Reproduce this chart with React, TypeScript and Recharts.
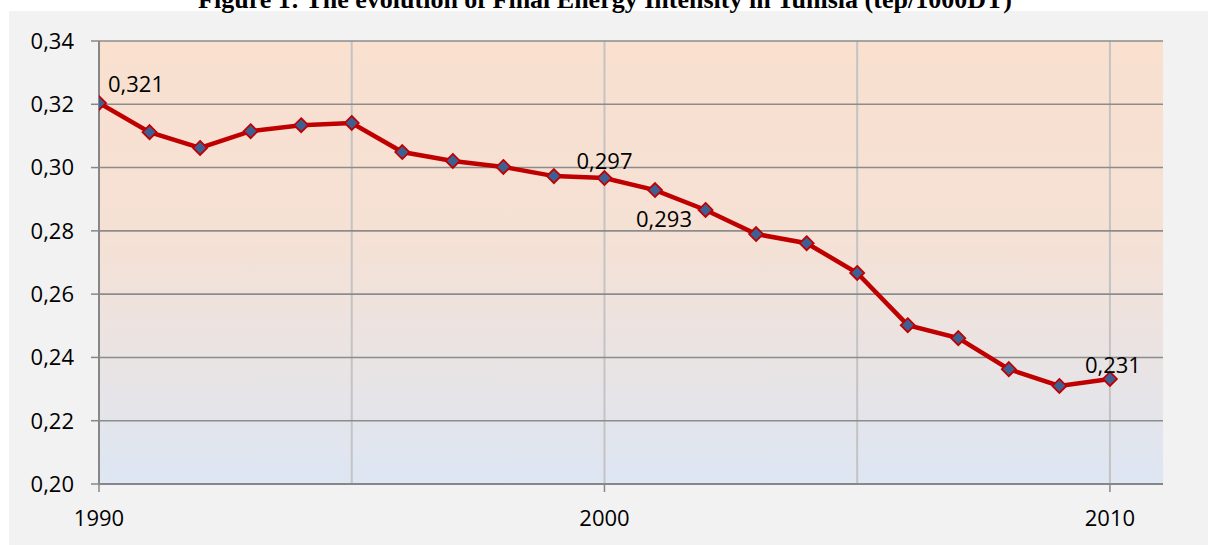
import React from "react";
import {
  LineChart,
  Line,
  XAxis,
  YAxis,
  CartesianGrid,
  LabelList
} from "recharts";

// data
const years = [
  1990, 1991, 1992, 1993, 1994, 1995, 1996, 1997, 1998, 1999, 2000,
  2001, 2002, 2003, 2004, 2005, 2006, 2007, 2008, 2009, 2010
];
const intensity = [
  0.3204, 0.3112, 0.3062, 0.3115, 0.3134, 0.3141, 0.3049, 0.3021, 0.3002, 0.2973, 0.2967,
  0.2929, 0.2866, 0.279, 0.2761, 0.2667, 0.2502, 0.2461, 0.2363, 0.231, 0.2332
];
const pointLabels: Record<number, string> = {
  1990: "0,321",
  2000: "0,297",
  2001: "0,293",
  2010: "0,231"
};
const yTicks = [0.2, 0.22, 0.24, 0.26, 0.28, 0.3, 0.32, 0.34];
const xTicks = [1990, 2000, 2010];
const gridYears = [1995, 2000, 2005, 2010];

const TITLE = "Figure 1: The evolution of Final Energy Intensity in Tunisia (tep/1000DT)";

const chartData = years.map((year, i) => ({
  year,
  value: intensity[i],
  label: pointLabels[year] ?? ""
}));

const FONT = "'Open Sans', sans-serif";
const AXIS_GRAY = "#878787";

// where each data label sits relative to its point
const labelOffset: Record<number, { dx: number; dy: number; anchor: "start" | "middle" }> = {
  1990: { dx: 9, dy: -20, anchor: "start" },
  2000: { dx: 0, dy: -18, anchor: "middle" },
  2001: { dx: 9, dy: 28, anchor: "middle" },
  2010: { dx: 3, dy: -15, anchor: "middle" }
};

const formatY = (v: number) => v.toFixed(2).replace(".", ",");

const Diamond = (props: any) => {
  const { cx, cy, index } = props;
  if (cx == null || cy == null) return <g key={`d-${index}`} />;
  const r = 7;
  return (
    <polygon
      key={`d-${index}`}
      points={`${cx},${cy - r} ${cx + r},${cy} ${cx},${cy + r} ${cx - r},${cy}`}
      fill="#3d6094"
      stroke="#c00000"
      strokeWidth={1.8}
    />
  );
};

const renderLabel = (props: any) => {
  const { x, y, value, index } = props;
  if (!value) return null;
  const off = labelOffset[years[index]] ?? { dx: 0, dy: -15, anchor: "middle" };
  return (
    <text
      x={x + off.dx}
      y={y + off.dy}
      textAnchor={off.anchor}
      dominantBaseline="central"
      fontFamily={FONT}
      fontSize={22}
      fill="#000"
    >
      {value}
    </text>
  );
};

export default function App() {
  return (
    <div style={{ position: "absolute", left: 0, top: 0, width: 1208, height: 545, overflow: "hidden", background: "#fff" }}>
      <div style={{ position: "absolute", left: 9, top: 11, width: 1199, height: 534, background: "#f2f2f2" }} />
      <svg width={1208} height={22} style={{ position: "absolute", left: 0, top: 0 }}>
        <text
          x={605}
          y={8}
          textAnchor="middle"
          fontFamily="'Liberation Serif', 'Times New Roman', serif"
          fontWeight="bold"
          fontSize={26}
          fill="#000"
        >
          {TITLE}
        </text>
      </svg>
      <div style={{ position: "absolute", left: 0, top: 0 }}>
        <LineChart
          width={1208}
          height={545}
          data={chartData}
          margin={{ top: 41, right: 45, bottom: 0, left: 9 }}
        >
          <defs>
            <linearGradient id="plotBg" x1="0" y1="0" x2="0" y2="1">
              <stop offset="0%" stopColor="#f9e0cf" />
              <stop offset="45%" stopColor="#f5e1d5" />
              <stop offset="100%" stopColor="#dde6f3" />
            </linearGradient>
          </defs>
          <CartesianGrid
            horizontal={false}
            verticalValues={gridYears}
            fill="url(#plotBg)"
            fillOpacity={1}
            stroke="#c3c3c3"
            strokeWidth={2}
          />
          <CartesianGrid
            vertical={false}
            horizontalValues={yTicks}
            stroke="#8c8c8c"
            strokeWidth={1.6}
          />
          <XAxis
            dataKey="year"
            type="number"
            domain={[1990, 2011.05]}
            ticks={xTicks}
            allowDataOverflow
            height={61}
            tickSize={8}
            tickMargin={18}
            axisLine={{ stroke: AXIS_GRAY, strokeWidth: 2 }}
            tickLine={{ stroke: AXIS_GRAY, strokeWidth: 1.5 }}
            tick={{ fill: "#000", fontFamily: FONT, fontSize: 22 }}
          />
          <YAxis
            type="number"
            domain={[0.2, 0.34]}
            ticks={yTicks}
            width={90}
            tickSize={8}
            tickMargin={17}
            tickFormatter={formatY}
            axisLine={{ stroke: AXIS_GRAY, strokeWidth: 2 }}
            tickLine={{ stroke: AXIS_GRAY, strokeWidth: 1.5 }}
            tick={{ fill: "#000", fontFamily: FONT, fontSize: 22 }}
          />
          <Line
            type="linear"
            dataKey="value"
            stroke="#c00000"
            strokeWidth={4.5}
            dot={Diamond}
            activeDot={false}
            isAnimationActive={false}
          >
            <LabelList dataKey="label" content={renderLabel} />
          </Line>
        </LineChart>
      </div>
    </div>
  );
}
